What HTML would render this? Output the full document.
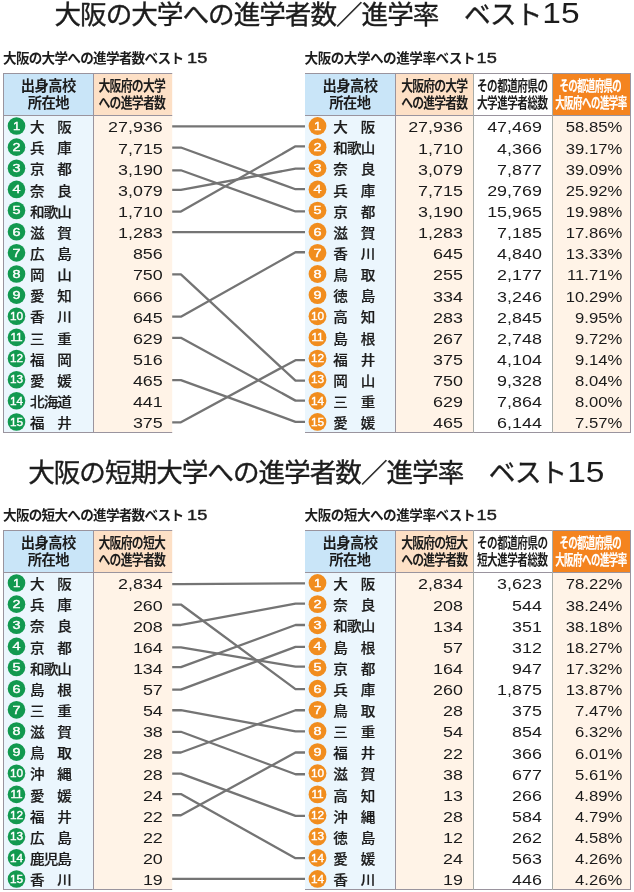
<!DOCTYPE html>
<html lang="ja"><head><meta charset="utf-8"><title>大阪の大学への進学者数／進学率 ベスト15</title>
<style>
html,body{margin:0;padding:0;background:#fff;}
body{width:634px;height:892px;overflow:hidden;font-family:"Liberation Sans","Noto Sans CJK JP",sans-serif;}
svg{display:block;will-change:transform;}
svg text{font-family:"Liberation Sans","Noto Sans CJK JP",sans-serif;}
</style></head><body>
<svg width="634" height="892" viewBox="0 0 634 892">
<text x="54.5" y="23.61" font-size="26.6" letter-spacing="-1" fill="#1c1c1c" stroke="#1c1c1c" stroke-width="0.37" xml:space="preserve">大阪の大学への進学者数／進学率　ベスト</text>
<text transform="translate(579.55 23.1) scale(1.15 1)" font-size="29.1" text-anchor="end" fill="#1c1c1c">15</text>
<text x="3.05" y="62.97" font-size="13.6" font-weight="bold" fill="#1c1c1c" textLength="181" lengthAdjust="spacing">大阪の大学への進学者数ベスト</text>
<text transform="translate(207.7 62.8) scale(1.19 1)" font-size="15.3" text-anchor="end" fill="#1c1c1c" letter-spacing="0.2" stroke="#1c1c1c" stroke-width="0.4">15</text>
<text x="304.54" y="62.97" font-size="13.6" font-weight="bold" fill="#1c1c1c" textLength="171" lengthAdjust="spacing">大阪の大学への進学率ベスト</text>
<text transform="translate(497.2 62.8) scale(1.19 1)" font-size="15.3" text-anchor="end" fill="#1c1c1c" letter-spacing="0.2" stroke="#1c1c1c" stroke-width="0.4">15</text>
<rect x="3" y="73" width="90.5" height="43" fill="#c9e5f8"/>
<rect x="3" y="116" width="90.5" height="317" fill="#ebf6fd"/>
<rect x="93.5" y="73" width="78.7" height="43" fill="#fde0c6"/>
<rect x="93.5" y="116" width="78.7" height="317" fill="#fff3e7"/>
<line x1="3" y1="73.5" x2="172.2" y2="73.5" stroke="#9a949e" stroke-width="1"/>
<line x1="3" y1="115.5" x2="172.2" y2="115.5" stroke="#9a949e" stroke-width="1"/>
<line x1="3" y1="432.5" x2="172.2" y2="432.5" stroke="#9a949e" stroke-width="1"/>
<line x1="3.5" y1="73" x2="3.5" y2="433" stroke="#9a949e" stroke-width="1"/>
<line x1="93.5" y1="73" x2="93.5" y2="433" stroke="#9a949e" stroke-width="1"/>
<text x="20.83" y="90.98" font-size="14.3" font-weight="bold" letter-spacing="-0.55" fill="#1c1c1c">出身高校</text>
<text x="27.7" y="107.98" font-size="14.3" font-weight="bold" letter-spacing="-0.55" fill="#1c1c1c">所在地</text>
<text transform="translate(98.39 90.98) scale(0.83 1)" font-size="14.3" font-weight="bold" letter-spacing="-0.87" fill="#1c1c1c">大阪府の大学</text>
<text transform="translate(98.39 107.98) scale(0.83 1)" font-size="14.3" font-weight="bold" letter-spacing="-0.87" fill="#1c1c1c">への進学者数</text>
<circle cx="16.5" cy="126" r="8.8" fill="#12994f"/>
<text transform="translate(16.5 129.8) scale(1.1 1)" font-size="11.8" text-anchor="middle" fill="#fff" stroke="#fff" stroke-width="0.4">1</text>
<text transform="translate(29.95 132.19) scale(1.094 1)" font-size="13.34" font-weight="500" letter-spacing="-0.82" fill="#1c1c1c" stroke="#1c1c1c" stroke-width="0.2" xml:space="preserve">大　阪</text>
<text transform="translate(162.8 132.45) scale(1.28 1)" font-size="14" text-anchor="end" fill="#1a1a1a">27,936</text>
<circle cx="16.5" cy="147.14" r="8.8" fill="#12994f"/>
<text transform="translate(16.5 150.94) scale(1.22 1)" font-size="11.8" text-anchor="middle" fill="#fff" stroke="#fff" stroke-width="0.4">2</text>
<text transform="translate(29.95 153.33) scale(1.094 1)" font-size="13.34" font-weight="500" letter-spacing="-0.82" fill="#1c1c1c" stroke="#1c1c1c" stroke-width="0.2" xml:space="preserve">兵　庫</text>
<text transform="translate(162.8 153.59) scale(1.28 1)" font-size="14" text-anchor="end" fill="#1a1a1a">7,715</text>
<circle cx="16.5" cy="168.28" r="8.8" fill="#12994f"/>
<text transform="translate(16.5 172.08) scale(1.22 1)" font-size="11.8" text-anchor="middle" fill="#fff" stroke="#fff" stroke-width="0.4">3</text>
<text transform="translate(29.95 174.47) scale(1.094 1)" font-size="13.34" font-weight="500" letter-spacing="-0.82" fill="#1c1c1c" stroke="#1c1c1c" stroke-width="0.2" xml:space="preserve">京　都</text>
<text transform="translate(162.8 174.73) scale(1.28 1)" font-size="14" text-anchor="end" fill="#1a1a1a">3,190</text>
<circle cx="16.5" cy="189.42" r="8.8" fill="#12994f"/>
<text transform="translate(16.5 193.22) scale(1.22 1)" font-size="11.8" text-anchor="middle" fill="#fff" stroke="#fff" stroke-width="0.4">4</text>
<text transform="translate(29.95 195.61) scale(1.094 1)" font-size="13.34" font-weight="500" letter-spacing="-0.82" fill="#1c1c1c" stroke="#1c1c1c" stroke-width="0.2" xml:space="preserve">奈　良</text>
<text transform="translate(162.8 195.87) scale(1.28 1)" font-size="14" text-anchor="end" fill="#1a1a1a">3,079</text>
<circle cx="16.5" cy="210.56" r="8.8" fill="#12994f"/>
<text transform="translate(16.5 214.36) scale(1.22 1)" font-size="11.8" text-anchor="middle" fill="#fff" stroke="#fff" stroke-width="0.4">5</text>
<text transform="translate(29.95 216.75) scale(1.094 1)" font-size="13.34" font-weight="500" letter-spacing="-0.82" fill="#1c1c1c" stroke="#1c1c1c" stroke-width="0.2">和歌山</text>
<text transform="translate(162.8 217.01) scale(1.28 1)" font-size="14" text-anchor="end" fill="#1a1a1a">1,710</text>
<circle cx="16.5" cy="231.7" r="8.8" fill="#12994f"/>
<text transform="translate(16.5 235.5) scale(1.22 1)" font-size="11.8" text-anchor="middle" fill="#fff" stroke="#fff" stroke-width="0.4">6</text>
<text transform="translate(29.95 237.89) scale(1.094 1)" font-size="13.34" font-weight="500" letter-spacing="-0.82" fill="#1c1c1c" stroke="#1c1c1c" stroke-width="0.2" xml:space="preserve">滋　賀</text>
<text transform="translate(162.8 238.15) scale(1.28 1)" font-size="14" text-anchor="end" fill="#1a1a1a">1,283</text>
<circle cx="16.5" cy="252.84" r="8.8" fill="#12994f"/>
<text transform="translate(16.5 256.64) scale(1.22 1)" font-size="11.8" text-anchor="middle" fill="#fff" stroke="#fff" stroke-width="0.4">7</text>
<text transform="translate(29.95 259.03) scale(1.094 1)" font-size="13.34" font-weight="500" letter-spacing="-0.82" fill="#1c1c1c" stroke="#1c1c1c" stroke-width="0.2" xml:space="preserve">広　島</text>
<text transform="translate(162.8 259.29) scale(1.28 1)" font-size="14" text-anchor="end" fill="#1a1a1a">856</text>
<circle cx="16.5" cy="273.98" r="8.8" fill="#12994f"/>
<text transform="translate(16.5 277.78) scale(1.22 1)" font-size="11.8" text-anchor="middle" fill="#fff" stroke="#fff" stroke-width="0.4">8</text>
<text transform="translate(29.95 280.17) scale(1.094 1)" font-size="13.34" font-weight="500" letter-spacing="-0.82" fill="#1c1c1c" stroke="#1c1c1c" stroke-width="0.2" xml:space="preserve">岡　山</text>
<text transform="translate(162.8 280.43) scale(1.28 1)" font-size="14" text-anchor="end" fill="#1a1a1a">750</text>
<circle cx="16.5" cy="295.12" r="8.8" fill="#12994f"/>
<text transform="translate(16.5 298.92) scale(1.22 1)" font-size="11.8" text-anchor="middle" fill="#fff" stroke="#fff" stroke-width="0.4">9</text>
<text transform="translate(29.95 301.31) scale(1.094 1)" font-size="13.34" font-weight="500" letter-spacing="-0.82" fill="#1c1c1c" stroke="#1c1c1c" stroke-width="0.2" xml:space="preserve">愛　知</text>
<text transform="translate(162.8 301.57) scale(1.28 1)" font-size="14" text-anchor="end" fill="#1a1a1a">666</text>
<circle cx="16.5" cy="316.26" r="8.8" fill="#12994f"/>
<text x="16.5" y="320.06" font-size="11.8" text-anchor="middle" fill="#fff" stroke="#fff" stroke-width="0.4">10</text>
<text transform="translate(29.95 322.45) scale(1.094 1)" font-size="13.34" font-weight="500" letter-spacing="-0.82" fill="#1c1c1c" stroke="#1c1c1c" stroke-width="0.2" xml:space="preserve">香　川</text>
<text transform="translate(162.8 322.71) scale(1.28 1)" font-size="14" text-anchor="end" fill="#1a1a1a">645</text>
<circle cx="16.5" cy="337.4" r="8.8" fill="#12994f"/>
<text x="16.5" y="341.2" font-size="11.8" text-anchor="middle" fill="#fff" stroke="#fff" stroke-width="0.4">11</text>
<text transform="translate(29.95 343.59) scale(1.094 1)" font-size="13.34" font-weight="500" letter-spacing="-0.82" fill="#1c1c1c" stroke="#1c1c1c" stroke-width="0.2" xml:space="preserve">三　重</text>
<text transform="translate(162.8 343.85) scale(1.28 1)" font-size="14" text-anchor="end" fill="#1a1a1a">629</text>
<circle cx="16.5" cy="358.54" r="8.8" fill="#12994f"/>
<text x="16.5" y="362.34" font-size="11.8" text-anchor="middle" fill="#fff" stroke="#fff" stroke-width="0.4">12</text>
<text transform="translate(29.95 364.73) scale(1.094 1)" font-size="13.34" font-weight="500" letter-spacing="-0.82" fill="#1c1c1c" stroke="#1c1c1c" stroke-width="0.2" xml:space="preserve">福　岡</text>
<text transform="translate(162.8 364.99) scale(1.28 1)" font-size="14" text-anchor="end" fill="#1a1a1a">516</text>
<circle cx="16.5" cy="379.68" r="8.8" fill="#12994f"/>
<text x="16.5" y="383.48" font-size="11.8" text-anchor="middle" fill="#fff" stroke="#fff" stroke-width="0.4">13</text>
<text transform="translate(29.95 385.87) scale(1.094 1)" font-size="13.34" font-weight="500" letter-spacing="-0.82" fill="#1c1c1c" stroke="#1c1c1c" stroke-width="0.2" xml:space="preserve">愛　媛</text>
<text transform="translate(162.8 386.13) scale(1.28 1)" font-size="14" text-anchor="end" fill="#1a1a1a">465</text>
<circle cx="16.5" cy="400.82" r="8.8" fill="#12994f"/>
<text x="16.5" y="404.62" font-size="11.8" text-anchor="middle" fill="#fff" stroke="#fff" stroke-width="0.4">14</text>
<text transform="translate(29.95 407.01) scale(1.094 1)" font-size="13.34" font-weight="500" letter-spacing="-0.82" fill="#1c1c1c" stroke="#1c1c1c" stroke-width="0.2">北海道</text>
<text transform="translate(162.8 407.27) scale(1.28 1)" font-size="14" text-anchor="end" fill="#1a1a1a">441</text>
<circle cx="16.5" cy="421.96" r="8.8" fill="#12994f"/>
<text x="16.5" y="425.76" font-size="11.8" text-anchor="middle" fill="#fff" stroke="#fff" stroke-width="0.4">15</text>
<text transform="translate(29.95 428.15) scale(1.094 1)" font-size="13.34" font-weight="500" letter-spacing="-0.82" fill="#1c1c1c" stroke="#1c1c1c" stroke-width="0.2" xml:space="preserve">福　井</text>
<text transform="translate(162.8 428.41) scale(1.28 1)" font-size="14" text-anchor="end" fill="#1a1a1a">375</text>
<rect x="305" y="73" width="90.5" height="43" fill="#c9e5f8"/>
<rect x="305" y="116" width="90.5" height="317" fill="#ebf6fd"/>
<rect x="395.5" y="73" width="78" height="43" fill="#fde0c6"/>
<rect x="395.5" y="116" width="78" height="317" fill="#fff3e7"/>
<rect x="552.5" y="73" width="78" height="43" fill="#f4841f"/>
<rect x="552.5" y="116" width="78" height="317" fill="#fff3e7"/>
<line x1="305" y1="73.5" x2="631" y2="73.5" stroke="#9a949e" stroke-width="1"/>
<line x1="305" y1="115.5" x2="631" y2="115.5" stroke="#9a949e" stroke-width="1"/>
<line x1="305" y1="432.5" x2="631" y2="432.5" stroke="#9a949e" stroke-width="1"/>
<line x1="395.5" y1="73" x2="395.5" y2="433" stroke="#9a949e" stroke-width="1"/>
<line x1="473.5" y1="73" x2="473.5" y2="433" stroke="#a8aca8" stroke-width="1"/>
<line x1="552.5" y1="73" x2="552.5" y2="433" stroke="#a8aca8" stroke-width="1"/>
<line x1="630.5" y1="73" x2="630.5" y2="433" stroke="#9a949e" stroke-width="1"/>
<text x="322.43" y="90.98" font-size="14.3" font-weight="bold" letter-spacing="-0.55" fill="#1c1c1c">出身高校</text>
<text x="329.3" y="107.98" font-size="14.3" font-weight="bold" letter-spacing="-0.55" fill="#1c1c1c">所在地</text>
<text transform="translate(401.37 90.98) scale(0.83 1)" font-size="14.3" font-weight="bold" letter-spacing="-1.05" fill="#1c1c1c">大阪府の大学</text>
<text transform="translate(401.37 107.98) scale(0.83 1)" font-size="14.3" font-weight="bold" letter-spacing="-1.05" fill="#1c1c1c">への進学者数</text>
<text transform="translate(477.01 90.98) scale(0.74 1)" font-size="14.3" font-weight="bold" letter-spacing="-0.65" fill="#1c1c1c">その都道府県の</text>
<text transform="translate(477.01 107.98) scale(0.74 1)" font-size="14.3" font-weight="bold" letter-spacing="-0.65" fill="#1c1c1c">大学進学者総数</text>
<text transform="translate(559.48 90.98) scale(0.66 1)" font-size="14.3" font-weight="bold" letter-spacing="-0.97" fill="#fff" stroke="#fff" stroke-width="0.15">その都道府県の</text>
<text transform="translate(555.16 107.98) scale(0.66 1)" font-size="14.3" font-weight="bold" letter-spacing="-0.74" fill="#fff" stroke="#fff" stroke-width="0.15">大阪府への進学率</text>
<circle cx="317.5" cy="126" r="8.9" fill="#f18d1e"/>
<text transform="translate(317.5 129.8) scale(1.1 1)" font-size="11.8" text-anchor="middle" fill="#fff" stroke="#fff" stroke-width="0.4">1</text>
<text transform="translate(333.35 132.19) scale(1.094 1)" font-size="13.34" font-weight="500" letter-spacing="-0.82" fill="#1c1c1c" stroke="#1c1c1c" stroke-width="0.2" xml:space="preserve">大　阪</text>
<text transform="translate(462.9 132.45) scale(1.28 1)" font-size="14" text-anchor="end" fill="#1a1a1a">27,936</text>
<text transform="translate(541.9 132.45) scale(1.28 1)" font-size="14" text-anchor="end" fill="#1a1a1a">47,469</text>
<text transform="translate(622.3 132.45) scale(1.19 1)" font-size="14" text-anchor="end" fill="#1a1a1a">58.85%</text>
<circle cx="317.5" cy="147.14" r="8.9" fill="#f18d1e"/>
<text transform="translate(317.5 150.94) scale(1.22 1)" font-size="11.8" text-anchor="middle" fill="#fff" stroke="#fff" stroke-width="0.4">2</text>
<text transform="translate(333.35 153.33) scale(1.094 1)" font-size="13.34" font-weight="500" letter-spacing="-0.82" fill="#1c1c1c" stroke="#1c1c1c" stroke-width="0.2">和歌山</text>
<text transform="translate(462.9 153.59) scale(1.28 1)" font-size="14" text-anchor="end" fill="#1a1a1a">1,710</text>
<text transform="translate(541.9 153.59) scale(1.28 1)" font-size="14" text-anchor="end" fill="#1a1a1a">4,366</text>
<text transform="translate(622.3 153.59) scale(1.19 1)" font-size="14" text-anchor="end" fill="#1a1a1a">39.17%</text>
<circle cx="317.5" cy="168.28" r="8.9" fill="#f18d1e"/>
<text transform="translate(317.5 172.08) scale(1.22 1)" font-size="11.8" text-anchor="middle" fill="#fff" stroke="#fff" stroke-width="0.4">3</text>
<text transform="translate(333.35 174.47) scale(1.094 1)" font-size="13.34" font-weight="500" letter-spacing="-0.82" fill="#1c1c1c" stroke="#1c1c1c" stroke-width="0.2" xml:space="preserve">奈　良</text>
<text transform="translate(462.9 174.73) scale(1.28 1)" font-size="14" text-anchor="end" fill="#1a1a1a">3,079</text>
<text transform="translate(541.9 174.73) scale(1.28 1)" font-size="14" text-anchor="end" fill="#1a1a1a">7,877</text>
<text transform="translate(622.3 174.73) scale(1.19 1)" font-size="14" text-anchor="end" fill="#1a1a1a">39.09%</text>
<circle cx="317.5" cy="189.42" r="8.9" fill="#f18d1e"/>
<text transform="translate(317.5 193.22) scale(1.22 1)" font-size="11.8" text-anchor="middle" fill="#fff" stroke="#fff" stroke-width="0.4">4</text>
<text transform="translate(333.35 195.61) scale(1.094 1)" font-size="13.34" font-weight="500" letter-spacing="-0.82" fill="#1c1c1c" stroke="#1c1c1c" stroke-width="0.2" xml:space="preserve">兵　庫</text>
<text transform="translate(462.9 195.87) scale(1.28 1)" font-size="14" text-anchor="end" fill="#1a1a1a">7,715</text>
<text transform="translate(541.9 195.87) scale(1.28 1)" font-size="14" text-anchor="end" fill="#1a1a1a">29,769</text>
<text transform="translate(622.3 195.87) scale(1.19 1)" font-size="14" text-anchor="end" fill="#1a1a1a">25.92%</text>
<circle cx="317.5" cy="210.56" r="8.9" fill="#f18d1e"/>
<text transform="translate(317.5 214.36) scale(1.22 1)" font-size="11.8" text-anchor="middle" fill="#fff" stroke="#fff" stroke-width="0.4">5</text>
<text transform="translate(333.35 216.75) scale(1.094 1)" font-size="13.34" font-weight="500" letter-spacing="-0.82" fill="#1c1c1c" stroke="#1c1c1c" stroke-width="0.2" xml:space="preserve">京　都</text>
<text transform="translate(462.9 217.01) scale(1.28 1)" font-size="14" text-anchor="end" fill="#1a1a1a">3,190</text>
<text transform="translate(541.9 217.01) scale(1.28 1)" font-size="14" text-anchor="end" fill="#1a1a1a">15,965</text>
<text transform="translate(622.3 217.01) scale(1.19 1)" font-size="14" text-anchor="end" fill="#1a1a1a">19.98%</text>
<circle cx="317.5" cy="231.7" r="8.9" fill="#f18d1e"/>
<text transform="translate(317.5 235.5) scale(1.22 1)" font-size="11.8" text-anchor="middle" fill="#fff" stroke="#fff" stroke-width="0.4">6</text>
<text transform="translate(333.35 237.89) scale(1.094 1)" font-size="13.34" font-weight="500" letter-spacing="-0.82" fill="#1c1c1c" stroke="#1c1c1c" stroke-width="0.2" xml:space="preserve">滋　賀</text>
<text transform="translate(462.9 238.15) scale(1.28 1)" font-size="14" text-anchor="end" fill="#1a1a1a">1,283</text>
<text transform="translate(541.9 238.15) scale(1.28 1)" font-size="14" text-anchor="end" fill="#1a1a1a">7,185</text>
<text transform="translate(622.3 238.15) scale(1.19 1)" font-size="14" text-anchor="end" fill="#1a1a1a">17.86%</text>
<circle cx="317.5" cy="252.84" r="8.9" fill="#f18d1e"/>
<text transform="translate(317.5 256.64) scale(1.22 1)" font-size="11.8" text-anchor="middle" fill="#fff" stroke="#fff" stroke-width="0.4">7</text>
<text transform="translate(333.35 259.03) scale(1.094 1)" font-size="13.34" font-weight="500" letter-spacing="-0.82" fill="#1c1c1c" stroke="#1c1c1c" stroke-width="0.2" xml:space="preserve">香　川</text>
<text transform="translate(462.9 259.29) scale(1.28 1)" font-size="14" text-anchor="end" fill="#1a1a1a">645</text>
<text transform="translate(541.9 259.29) scale(1.28 1)" font-size="14" text-anchor="end" fill="#1a1a1a">4,840</text>
<text transform="translate(622.3 259.29) scale(1.19 1)" font-size="14" text-anchor="end" fill="#1a1a1a">13.33%</text>
<circle cx="317.5" cy="273.98" r="8.9" fill="#f18d1e"/>
<text transform="translate(317.5 277.78) scale(1.22 1)" font-size="11.8" text-anchor="middle" fill="#fff" stroke="#fff" stroke-width="0.4">8</text>
<text transform="translate(333.35 280.17) scale(1.094 1)" font-size="13.34" font-weight="500" letter-spacing="-0.82" fill="#1c1c1c" stroke="#1c1c1c" stroke-width="0.2" xml:space="preserve">鳥　取</text>
<text transform="translate(462.9 280.43) scale(1.28 1)" font-size="14" text-anchor="end" fill="#1a1a1a">255</text>
<text transform="translate(541.9 280.43) scale(1.28 1)" font-size="14" text-anchor="end" fill="#1a1a1a">2,177</text>
<text transform="translate(622.3 280.43) scale(1.19 1)" font-size="14" text-anchor="end" fill="#1a1a1a">11.71%</text>
<circle cx="317.5" cy="295.12" r="8.9" fill="#f18d1e"/>
<text transform="translate(317.5 298.92) scale(1.22 1)" font-size="11.8" text-anchor="middle" fill="#fff" stroke="#fff" stroke-width="0.4">9</text>
<text transform="translate(333.35 301.31) scale(1.094 1)" font-size="13.34" font-weight="500" letter-spacing="-0.82" fill="#1c1c1c" stroke="#1c1c1c" stroke-width="0.2" xml:space="preserve">徳　島</text>
<text transform="translate(462.9 301.57) scale(1.28 1)" font-size="14" text-anchor="end" fill="#1a1a1a">334</text>
<text transform="translate(541.9 301.57) scale(1.28 1)" font-size="14" text-anchor="end" fill="#1a1a1a">3,246</text>
<text transform="translate(622.3 301.57) scale(1.19 1)" font-size="14" text-anchor="end" fill="#1a1a1a">10.29%</text>
<circle cx="317.5" cy="316.26" r="8.9" fill="#f18d1e"/>
<text x="317.5" y="320.06" font-size="11.8" text-anchor="middle" fill="#fff" stroke="#fff" stroke-width="0.4">10</text>
<text transform="translate(333.35 322.45) scale(1.094 1)" font-size="13.34" font-weight="500" letter-spacing="-0.82" fill="#1c1c1c" stroke="#1c1c1c" stroke-width="0.2" xml:space="preserve">高　知</text>
<text transform="translate(462.9 322.71) scale(1.28 1)" font-size="14" text-anchor="end" fill="#1a1a1a">283</text>
<text transform="translate(541.9 322.71) scale(1.28 1)" font-size="14" text-anchor="end" fill="#1a1a1a">2,845</text>
<text transform="translate(622.3 322.71) scale(1.19 1)" font-size="14" text-anchor="end" fill="#1a1a1a">9.95%</text>
<circle cx="317.5" cy="337.4" r="8.9" fill="#f18d1e"/>
<text x="317.5" y="341.2" font-size="11.8" text-anchor="middle" fill="#fff" stroke="#fff" stroke-width="0.4">11</text>
<text transform="translate(333.35 343.59) scale(1.094 1)" font-size="13.34" font-weight="500" letter-spacing="-0.82" fill="#1c1c1c" stroke="#1c1c1c" stroke-width="0.2" xml:space="preserve">島　根</text>
<text transform="translate(462.9 343.85) scale(1.28 1)" font-size="14" text-anchor="end" fill="#1a1a1a">267</text>
<text transform="translate(541.9 343.85) scale(1.28 1)" font-size="14" text-anchor="end" fill="#1a1a1a">2,748</text>
<text transform="translate(622.3 343.85) scale(1.19 1)" font-size="14" text-anchor="end" fill="#1a1a1a">9.72%</text>
<circle cx="317.5" cy="358.54" r="8.9" fill="#f18d1e"/>
<text x="317.5" y="362.34" font-size="11.8" text-anchor="middle" fill="#fff" stroke="#fff" stroke-width="0.4">12</text>
<text transform="translate(333.35 364.73) scale(1.094 1)" font-size="13.34" font-weight="500" letter-spacing="-0.82" fill="#1c1c1c" stroke="#1c1c1c" stroke-width="0.2" xml:space="preserve">福　井</text>
<text transform="translate(462.9 364.99) scale(1.28 1)" font-size="14" text-anchor="end" fill="#1a1a1a">375</text>
<text transform="translate(541.9 364.99) scale(1.28 1)" font-size="14" text-anchor="end" fill="#1a1a1a">4,104</text>
<text transform="translate(622.3 364.99) scale(1.19 1)" font-size="14" text-anchor="end" fill="#1a1a1a">9.14%</text>
<circle cx="317.5" cy="379.68" r="8.9" fill="#f18d1e"/>
<text x="317.5" y="383.48" font-size="11.8" text-anchor="middle" fill="#fff" stroke="#fff" stroke-width="0.4">13</text>
<text transform="translate(333.35 385.87) scale(1.094 1)" font-size="13.34" font-weight="500" letter-spacing="-0.82" fill="#1c1c1c" stroke="#1c1c1c" stroke-width="0.2" xml:space="preserve">岡　山</text>
<text transform="translate(462.9 386.13) scale(1.28 1)" font-size="14" text-anchor="end" fill="#1a1a1a">750</text>
<text transform="translate(541.9 386.13) scale(1.28 1)" font-size="14" text-anchor="end" fill="#1a1a1a">9,328</text>
<text transform="translate(622.3 386.13) scale(1.19 1)" font-size="14" text-anchor="end" fill="#1a1a1a">8.04%</text>
<circle cx="317.5" cy="400.82" r="8.9" fill="#f18d1e"/>
<text x="317.5" y="404.62" font-size="11.8" text-anchor="middle" fill="#fff" stroke="#fff" stroke-width="0.4">14</text>
<text transform="translate(333.35 407.01) scale(1.094 1)" font-size="13.34" font-weight="500" letter-spacing="-0.82" fill="#1c1c1c" stroke="#1c1c1c" stroke-width="0.2" xml:space="preserve">三　重</text>
<text transform="translate(462.9 407.27) scale(1.28 1)" font-size="14" text-anchor="end" fill="#1a1a1a">629</text>
<text transform="translate(541.9 407.27) scale(1.28 1)" font-size="14" text-anchor="end" fill="#1a1a1a">7,864</text>
<text transform="translate(622.3 407.27) scale(1.19 1)" font-size="14" text-anchor="end" fill="#1a1a1a">8.00%</text>
<circle cx="317.5" cy="421.96" r="8.9" fill="#f18d1e"/>
<text x="317.5" y="425.76" font-size="11.8" text-anchor="middle" fill="#fff" stroke="#fff" stroke-width="0.4">15</text>
<text transform="translate(333.35 428.15) scale(1.094 1)" font-size="13.34" font-weight="500" letter-spacing="-0.82" fill="#1c1c1c" stroke="#1c1c1c" stroke-width="0.2" xml:space="preserve">愛　媛</text>
<text transform="translate(462.9 428.41) scale(1.28 1)" font-size="14" text-anchor="end" fill="#1a1a1a">465</text>
<text transform="translate(541.9 428.41) scale(1.28 1)" font-size="14" text-anchor="end" fill="#1a1a1a">6,144</text>
<text transform="translate(622.3 428.41) scale(1.19 1)" font-size="14" text-anchor="end" fill="#1a1a1a">7.57%</text>
<polyline points="172.2,126.4 180.9,126.4 295.5,126.4 305,126.4" fill="none" stroke="#747474" stroke-width="2.3" stroke-linejoin="round"/>
<polyline points="172.2,147.54 180.9,147.54 295.5,189.22 305,189.22" fill="none" stroke="#747474" stroke-width="2.3" stroke-linejoin="round"/>
<polyline points="172.2,170.28 180.9,170.28 295.5,211.46 305,211.46" fill="none" stroke="#747474" stroke-width="2.3" stroke-linejoin="round"/>
<polyline points="172.2,189.82 180.9,189.82 295.5,168.68 305,168.68" fill="none" stroke="#747474" stroke-width="2.3" stroke-linejoin="round"/>
<polyline points="172.2,211.56 180.9,211.56 295.5,146.34 305,146.34" fill="none" stroke="#747474" stroke-width="2.3" stroke-linejoin="round"/>
<polyline points="172.2,232.1 180.9,232.1 295.5,232.1 305,232.1" fill="none" stroke="#747474" stroke-width="2.3" stroke-linejoin="round"/>
<polyline points="172.2,274.38 180.9,274.38 295.5,380.68 305,380.68" fill="none" stroke="#747474" stroke-width="2.3" stroke-linejoin="round"/>
<polyline points="172.2,316.66 180.9,316.66 295.5,252.24 305,252.24" fill="none" stroke="#747474" stroke-width="2.3" stroke-linejoin="round"/>
<polyline points="172.2,337.8 180.9,337.8 295.5,400.62 305,400.62" fill="none" stroke="#747474" stroke-width="2.3" stroke-linejoin="round"/>
<polyline points="172.2,380.08 180.9,380.08 295.5,421.86 305,421.86" fill="none" stroke="#747474" stroke-width="2.3" stroke-linejoin="round"/>
<polyline points="172.2,422.36 180.9,422.36 295.5,360.14 305,360.14" fill="none" stroke="#747474" stroke-width="2.3" stroke-linejoin="round"/>
<text x="28.2" y="482.41" font-size="26.6" letter-spacing="-1" fill="#1c1c1c" stroke="#1c1c1c" stroke-width="0.37" xml:space="preserve">大阪の短期大学への進学者数／進学率　ベスト</text>
<text transform="translate(604.45 481.9) scale(1.15 1)" font-size="29.1" text-anchor="end" fill="#1c1c1c">15</text>
<text x="3.05" y="519.97" font-size="13.6" font-weight="bold" fill="#1c1c1c" textLength="181" lengthAdjust="spacing">大阪の短大への進学者数ベスト</text>
<text transform="translate(207.7 519.8) scale(1.19 1)" font-size="15.3" text-anchor="end" fill="#1c1c1c" letter-spacing="0.2" stroke="#1c1c1c" stroke-width="0.4">15</text>
<text x="304.54" y="519.97" font-size="13.6" font-weight="bold" fill="#1c1c1c" textLength="171" lengthAdjust="spacing">大阪の短大への進学率ベスト</text>
<text transform="translate(497.2 519.8) scale(1.19 1)" font-size="15.3" text-anchor="end" fill="#1c1c1c" letter-spacing="0.2" stroke="#1c1c1c" stroke-width="0.4">15</text>
<rect x="3" y="530" width="90.5" height="43" fill="#c9e5f8"/>
<rect x="3" y="573" width="90.5" height="317" fill="#ebf6fd"/>
<rect x="93.5" y="530" width="78.7" height="43" fill="#fde0c6"/>
<rect x="93.5" y="573" width="78.7" height="317" fill="#fff3e7"/>
<line x1="3" y1="530.5" x2="172.2" y2="530.5" stroke="#9a949e" stroke-width="1"/>
<line x1="3" y1="572.5" x2="172.2" y2="572.5" stroke="#9a949e" stroke-width="1"/>
<line x1="3" y1="889.5" x2="172.2" y2="889.5" stroke="#9a949e" stroke-width="1"/>
<line x1="3.5" y1="530" x2="3.5" y2="890" stroke="#9a949e" stroke-width="1"/>
<line x1="93.5" y1="530" x2="93.5" y2="890" stroke="#9a949e" stroke-width="1"/>
<text x="20.83" y="547.98" font-size="14.3" font-weight="bold" letter-spacing="-0.55" fill="#1c1c1c">出身高校</text>
<text x="27.7" y="564.98" font-size="14.3" font-weight="bold" letter-spacing="-0.55" fill="#1c1c1c">所在地</text>
<text transform="translate(98.39 547.98) scale(0.83 1)" font-size="14.3" font-weight="bold" letter-spacing="-0.87" fill="#1c1c1c">大阪府の短大</text>
<text transform="translate(98.39 564.98) scale(0.83 1)" font-size="14.3" font-weight="bold" letter-spacing="-0.87" fill="#1c1c1c">への進学者数</text>
<circle cx="16.5" cy="583" r="8.8" fill="#12994f"/>
<text transform="translate(16.5 586.8) scale(1.1 1)" font-size="11.8" text-anchor="middle" fill="#fff" stroke="#fff" stroke-width="0.4">1</text>
<text transform="translate(29.95 589.19) scale(1.094 1)" font-size="13.34" font-weight="500" letter-spacing="-0.82" fill="#1c1c1c" stroke="#1c1c1c" stroke-width="0.2" xml:space="preserve">大　阪</text>
<text transform="translate(162.8 589.45) scale(1.28 1)" font-size="14" text-anchor="end" fill="#1a1a1a">2,834</text>
<circle cx="16.5" cy="604.14" r="8.8" fill="#12994f"/>
<text transform="translate(16.5 607.94) scale(1.22 1)" font-size="11.8" text-anchor="middle" fill="#fff" stroke="#fff" stroke-width="0.4">2</text>
<text transform="translate(29.95 610.33) scale(1.094 1)" font-size="13.34" font-weight="500" letter-spacing="-0.82" fill="#1c1c1c" stroke="#1c1c1c" stroke-width="0.2" xml:space="preserve">兵　庫</text>
<text transform="translate(162.8 610.59) scale(1.28 1)" font-size="14" text-anchor="end" fill="#1a1a1a">260</text>
<circle cx="16.5" cy="625.28" r="8.8" fill="#12994f"/>
<text transform="translate(16.5 629.08) scale(1.22 1)" font-size="11.8" text-anchor="middle" fill="#fff" stroke="#fff" stroke-width="0.4">3</text>
<text transform="translate(29.95 631.47) scale(1.094 1)" font-size="13.34" font-weight="500" letter-spacing="-0.82" fill="#1c1c1c" stroke="#1c1c1c" stroke-width="0.2" xml:space="preserve">奈　良</text>
<text transform="translate(162.8 631.73) scale(1.28 1)" font-size="14" text-anchor="end" fill="#1a1a1a">208</text>
<circle cx="16.5" cy="646.42" r="8.8" fill="#12994f"/>
<text transform="translate(16.5 650.22) scale(1.22 1)" font-size="11.8" text-anchor="middle" fill="#fff" stroke="#fff" stroke-width="0.4">4</text>
<text transform="translate(29.95 652.61) scale(1.094 1)" font-size="13.34" font-weight="500" letter-spacing="-0.82" fill="#1c1c1c" stroke="#1c1c1c" stroke-width="0.2" xml:space="preserve">京　都</text>
<text transform="translate(162.8 652.87) scale(1.28 1)" font-size="14" text-anchor="end" fill="#1a1a1a">164</text>
<circle cx="16.5" cy="667.56" r="8.8" fill="#12994f"/>
<text transform="translate(16.5 671.36) scale(1.22 1)" font-size="11.8" text-anchor="middle" fill="#fff" stroke="#fff" stroke-width="0.4">5</text>
<text transform="translate(29.95 673.75) scale(1.094 1)" font-size="13.34" font-weight="500" letter-spacing="-0.82" fill="#1c1c1c" stroke="#1c1c1c" stroke-width="0.2">和歌山</text>
<text transform="translate(162.8 674.01) scale(1.28 1)" font-size="14" text-anchor="end" fill="#1a1a1a">134</text>
<circle cx="16.5" cy="688.7" r="8.8" fill="#12994f"/>
<text transform="translate(16.5 692.5) scale(1.22 1)" font-size="11.8" text-anchor="middle" fill="#fff" stroke="#fff" stroke-width="0.4">6</text>
<text transform="translate(29.95 694.89) scale(1.094 1)" font-size="13.34" font-weight="500" letter-spacing="-0.82" fill="#1c1c1c" stroke="#1c1c1c" stroke-width="0.2" xml:space="preserve">島　根</text>
<text transform="translate(162.8 695.15) scale(1.28 1)" font-size="14" text-anchor="end" fill="#1a1a1a">57</text>
<circle cx="16.5" cy="709.84" r="8.8" fill="#12994f"/>
<text transform="translate(16.5 713.64) scale(1.22 1)" font-size="11.8" text-anchor="middle" fill="#fff" stroke="#fff" stroke-width="0.4">7</text>
<text transform="translate(29.95 716.03) scale(1.094 1)" font-size="13.34" font-weight="500" letter-spacing="-0.82" fill="#1c1c1c" stroke="#1c1c1c" stroke-width="0.2" xml:space="preserve">三　重</text>
<text transform="translate(162.8 716.29) scale(1.28 1)" font-size="14" text-anchor="end" fill="#1a1a1a">54</text>
<circle cx="16.5" cy="730.98" r="8.8" fill="#12994f"/>
<text transform="translate(16.5 734.78) scale(1.22 1)" font-size="11.8" text-anchor="middle" fill="#fff" stroke="#fff" stroke-width="0.4">8</text>
<text transform="translate(29.95 737.17) scale(1.094 1)" font-size="13.34" font-weight="500" letter-spacing="-0.82" fill="#1c1c1c" stroke="#1c1c1c" stroke-width="0.2" xml:space="preserve">滋　賀</text>
<text transform="translate(162.8 737.43) scale(1.28 1)" font-size="14" text-anchor="end" fill="#1a1a1a">38</text>
<circle cx="16.5" cy="752.12" r="8.8" fill="#12994f"/>
<text transform="translate(16.5 755.92) scale(1.22 1)" font-size="11.8" text-anchor="middle" fill="#fff" stroke="#fff" stroke-width="0.4">9</text>
<text transform="translate(29.95 758.31) scale(1.094 1)" font-size="13.34" font-weight="500" letter-spacing="-0.82" fill="#1c1c1c" stroke="#1c1c1c" stroke-width="0.2" xml:space="preserve">鳥　取</text>
<text transform="translate(162.8 758.57) scale(1.28 1)" font-size="14" text-anchor="end" fill="#1a1a1a">28</text>
<circle cx="16.5" cy="773.26" r="8.8" fill="#12994f"/>
<text x="16.5" y="777.06" font-size="11.8" text-anchor="middle" fill="#fff" stroke="#fff" stroke-width="0.4">10</text>
<text transform="translate(29.95 779.45) scale(1.094 1)" font-size="13.34" font-weight="500" letter-spacing="-0.82" fill="#1c1c1c" stroke="#1c1c1c" stroke-width="0.2" xml:space="preserve">沖　縄</text>
<text transform="translate(162.8 779.71) scale(1.28 1)" font-size="14" text-anchor="end" fill="#1a1a1a">28</text>
<circle cx="16.5" cy="794.4" r="8.8" fill="#12994f"/>
<text x="16.5" y="798.2" font-size="11.8" text-anchor="middle" fill="#fff" stroke="#fff" stroke-width="0.4">11</text>
<text transform="translate(29.95 800.59) scale(1.094 1)" font-size="13.34" font-weight="500" letter-spacing="-0.82" fill="#1c1c1c" stroke="#1c1c1c" stroke-width="0.2" xml:space="preserve">愛　媛</text>
<text transform="translate(162.8 800.85) scale(1.28 1)" font-size="14" text-anchor="end" fill="#1a1a1a">24</text>
<circle cx="16.5" cy="815.54" r="8.8" fill="#12994f"/>
<text x="16.5" y="819.34" font-size="11.8" text-anchor="middle" fill="#fff" stroke="#fff" stroke-width="0.4">12</text>
<text transform="translate(29.95 821.73) scale(1.094 1)" font-size="13.34" font-weight="500" letter-spacing="-0.82" fill="#1c1c1c" stroke="#1c1c1c" stroke-width="0.2" xml:space="preserve">福　井</text>
<text transform="translate(162.8 821.99) scale(1.28 1)" font-size="14" text-anchor="end" fill="#1a1a1a">22</text>
<circle cx="16.5" cy="836.68" r="8.8" fill="#12994f"/>
<text x="16.5" y="840.48" font-size="11.8" text-anchor="middle" fill="#fff" stroke="#fff" stroke-width="0.4">13</text>
<text transform="translate(29.95 842.87) scale(1.094 1)" font-size="13.34" font-weight="500" letter-spacing="-0.82" fill="#1c1c1c" stroke="#1c1c1c" stroke-width="0.2" xml:space="preserve">広　島</text>
<text transform="translate(162.8 843.13) scale(1.28 1)" font-size="14" text-anchor="end" fill="#1a1a1a">22</text>
<circle cx="16.5" cy="857.82" r="8.8" fill="#12994f"/>
<text x="16.5" y="861.62" font-size="11.8" text-anchor="middle" fill="#fff" stroke="#fff" stroke-width="0.4">14</text>
<text transform="translate(29.95 864.01) scale(1.094 1)" font-size="13.34" font-weight="500" letter-spacing="-0.82" fill="#1c1c1c" stroke="#1c1c1c" stroke-width="0.2">鹿児島</text>
<text transform="translate(162.8 864.27) scale(1.28 1)" font-size="14" text-anchor="end" fill="#1a1a1a">20</text>
<circle cx="16.5" cy="878.96" r="8.8" fill="#12994f"/>
<text x="16.5" y="882.76" font-size="11.8" text-anchor="middle" fill="#fff" stroke="#fff" stroke-width="0.4">15</text>
<text transform="translate(29.95 885.15) scale(1.094 1)" font-size="13.34" font-weight="500" letter-spacing="-0.82" fill="#1c1c1c" stroke="#1c1c1c" stroke-width="0.2" xml:space="preserve">香　川</text>
<text transform="translate(162.8 885.41) scale(1.28 1)" font-size="14" text-anchor="end" fill="#1a1a1a">19</text>
<rect x="305" y="530" width="90.5" height="43" fill="#c9e5f8"/>
<rect x="305" y="573" width="90.5" height="317" fill="#ebf6fd"/>
<rect x="395.5" y="530" width="78" height="43" fill="#fde0c6"/>
<rect x="395.5" y="573" width="78" height="317" fill="#fff3e7"/>
<rect x="552.5" y="530" width="78" height="43" fill="#f4841f"/>
<rect x="552.5" y="573" width="78" height="317" fill="#fff3e7"/>
<line x1="305" y1="530.5" x2="631" y2="530.5" stroke="#9a949e" stroke-width="1"/>
<line x1="305" y1="572.5" x2="631" y2="572.5" stroke="#9a949e" stroke-width="1"/>
<line x1="305" y1="889.5" x2="631" y2="889.5" stroke="#9a949e" stroke-width="1"/>
<line x1="395.5" y1="530" x2="395.5" y2="890" stroke="#9a949e" stroke-width="1"/>
<line x1="473.5" y1="530" x2="473.5" y2="890" stroke="#a8aca8" stroke-width="1"/>
<line x1="552.5" y1="530" x2="552.5" y2="890" stroke="#a8aca8" stroke-width="1"/>
<line x1="630.5" y1="530" x2="630.5" y2="890" stroke="#9a949e" stroke-width="1"/>
<text x="322.43" y="547.98" font-size="14.3" font-weight="bold" letter-spacing="-0.55" fill="#1c1c1c">出身高校</text>
<text x="329.3" y="564.98" font-size="14.3" font-weight="bold" letter-spacing="-0.55" fill="#1c1c1c">所在地</text>
<text transform="translate(401.37 547.98) scale(0.83 1)" font-size="14.3" font-weight="bold" letter-spacing="-1.05" fill="#1c1c1c">大阪府の短大</text>
<text transform="translate(401.37 564.98) scale(0.83 1)" font-size="14.3" font-weight="bold" letter-spacing="-1.05" fill="#1c1c1c">への進学者数</text>
<text transform="translate(477.01 547.98) scale(0.74 1)" font-size="14.3" font-weight="bold" letter-spacing="-0.65" fill="#1c1c1c">その都道府県の</text>
<text transform="translate(477.01 564.98) scale(0.74 1)" font-size="14.3" font-weight="bold" letter-spacing="-0.65" fill="#1c1c1c">短大進学者総数</text>
<text transform="translate(559.48 547.98) scale(0.66 1)" font-size="14.3" font-weight="bold" letter-spacing="-0.97" fill="#fff" stroke="#fff" stroke-width="0.15">その都道府県の</text>
<text transform="translate(555.16 564.98) scale(0.66 1)" font-size="14.3" font-weight="bold" letter-spacing="-0.74" fill="#fff" stroke="#fff" stroke-width="0.15">大阪府への進学率</text>
<circle cx="317.5" cy="583" r="8.9" fill="#f18d1e"/>
<text transform="translate(317.5 586.8) scale(1.1 1)" font-size="11.8" text-anchor="middle" fill="#fff" stroke="#fff" stroke-width="0.4">1</text>
<text transform="translate(333.35 589.19) scale(1.094 1)" font-size="13.34" font-weight="500" letter-spacing="-0.82" fill="#1c1c1c" stroke="#1c1c1c" stroke-width="0.2" xml:space="preserve">大　阪</text>
<text transform="translate(462.9 589.45) scale(1.28 1)" font-size="14" text-anchor="end" fill="#1a1a1a">2,834</text>
<text transform="translate(541.9 589.45) scale(1.28 1)" font-size="14" text-anchor="end" fill="#1a1a1a">3,623</text>
<text transform="translate(622.3 589.45) scale(1.19 1)" font-size="14" text-anchor="end" fill="#1a1a1a">78.22%</text>
<circle cx="317.5" cy="604.14" r="8.9" fill="#f18d1e"/>
<text transform="translate(317.5 607.94) scale(1.22 1)" font-size="11.8" text-anchor="middle" fill="#fff" stroke="#fff" stroke-width="0.4">2</text>
<text transform="translate(333.35 610.33) scale(1.094 1)" font-size="13.34" font-weight="500" letter-spacing="-0.82" fill="#1c1c1c" stroke="#1c1c1c" stroke-width="0.2" xml:space="preserve">奈　良</text>
<text transform="translate(462.9 610.59) scale(1.28 1)" font-size="14" text-anchor="end" fill="#1a1a1a">208</text>
<text transform="translate(541.9 610.59) scale(1.28 1)" font-size="14" text-anchor="end" fill="#1a1a1a">544</text>
<text transform="translate(622.3 610.59) scale(1.19 1)" font-size="14" text-anchor="end" fill="#1a1a1a">38.24%</text>
<circle cx="317.5" cy="625.28" r="8.9" fill="#f18d1e"/>
<text transform="translate(317.5 629.08) scale(1.22 1)" font-size="11.8" text-anchor="middle" fill="#fff" stroke="#fff" stroke-width="0.4">3</text>
<text transform="translate(333.35 631.47) scale(1.094 1)" font-size="13.34" font-weight="500" letter-spacing="-0.82" fill="#1c1c1c" stroke="#1c1c1c" stroke-width="0.2">和歌山</text>
<text transform="translate(462.9 631.73) scale(1.28 1)" font-size="14" text-anchor="end" fill="#1a1a1a">134</text>
<text transform="translate(541.9 631.73) scale(1.28 1)" font-size="14" text-anchor="end" fill="#1a1a1a">351</text>
<text transform="translate(622.3 631.73) scale(1.19 1)" font-size="14" text-anchor="end" fill="#1a1a1a">38.18%</text>
<circle cx="317.5" cy="646.42" r="8.9" fill="#f18d1e"/>
<text transform="translate(317.5 650.22) scale(1.22 1)" font-size="11.8" text-anchor="middle" fill="#fff" stroke="#fff" stroke-width="0.4">4</text>
<text transform="translate(333.35 652.61) scale(1.094 1)" font-size="13.34" font-weight="500" letter-spacing="-0.82" fill="#1c1c1c" stroke="#1c1c1c" stroke-width="0.2" xml:space="preserve">島　根</text>
<text transform="translate(462.9 652.87) scale(1.28 1)" font-size="14" text-anchor="end" fill="#1a1a1a">57</text>
<text transform="translate(541.9 652.87) scale(1.28 1)" font-size="14" text-anchor="end" fill="#1a1a1a">312</text>
<text transform="translate(622.3 652.87) scale(1.19 1)" font-size="14" text-anchor="end" fill="#1a1a1a">18.27%</text>
<circle cx="317.5" cy="667.56" r="8.9" fill="#f18d1e"/>
<text transform="translate(317.5 671.36) scale(1.22 1)" font-size="11.8" text-anchor="middle" fill="#fff" stroke="#fff" stroke-width="0.4">5</text>
<text transform="translate(333.35 673.75) scale(1.094 1)" font-size="13.34" font-weight="500" letter-spacing="-0.82" fill="#1c1c1c" stroke="#1c1c1c" stroke-width="0.2" xml:space="preserve">京　都</text>
<text transform="translate(462.9 674.01) scale(1.28 1)" font-size="14" text-anchor="end" fill="#1a1a1a">164</text>
<text transform="translate(541.9 674.01) scale(1.28 1)" font-size="14" text-anchor="end" fill="#1a1a1a">947</text>
<text transform="translate(622.3 674.01) scale(1.19 1)" font-size="14" text-anchor="end" fill="#1a1a1a">17.32%</text>
<circle cx="317.5" cy="688.7" r="8.9" fill="#f18d1e"/>
<text transform="translate(317.5 692.5) scale(1.22 1)" font-size="11.8" text-anchor="middle" fill="#fff" stroke="#fff" stroke-width="0.4">6</text>
<text transform="translate(333.35 694.89) scale(1.094 1)" font-size="13.34" font-weight="500" letter-spacing="-0.82" fill="#1c1c1c" stroke="#1c1c1c" stroke-width="0.2" xml:space="preserve">兵　庫</text>
<text transform="translate(462.9 695.15) scale(1.28 1)" font-size="14" text-anchor="end" fill="#1a1a1a">260</text>
<text transform="translate(541.9 695.15) scale(1.28 1)" font-size="14" text-anchor="end" fill="#1a1a1a">1,875</text>
<text transform="translate(622.3 695.15) scale(1.19 1)" font-size="14" text-anchor="end" fill="#1a1a1a">13.87%</text>
<circle cx="317.5" cy="709.84" r="8.9" fill="#f18d1e"/>
<text transform="translate(317.5 713.64) scale(1.22 1)" font-size="11.8" text-anchor="middle" fill="#fff" stroke="#fff" stroke-width="0.4">7</text>
<text transform="translate(333.35 716.03) scale(1.094 1)" font-size="13.34" font-weight="500" letter-spacing="-0.82" fill="#1c1c1c" stroke="#1c1c1c" stroke-width="0.2" xml:space="preserve">鳥　取</text>
<text transform="translate(462.9 716.29) scale(1.28 1)" font-size="14" text-anchor="end" fill="#1a1a1a">28</text>
<text transform="translate(541.9 716.29) scale(1.28 1)" font-size="14" text-anchor="end" fill="#1a1a1a">375</text>
<text transform="translate(622.3 716.29) scale(1.19 1)" font-size="14" text-anchor="end" fill="#1a1a1a">7.47%</text>
<circle cx="317.5" cy="730.98" r="8.9" fill="#f18d1e"/>
<text transform="translate(317.5 734.78) scale(1.22 1)" font-size="11.8" text-anchor="middle" fill="#fff" stroke="#fff" stroke-width="0.4">8</text>
<text transform="translate(333.35 737.17) scale(1.094 1)" font-size="13.34" font-weight="500" letter-spacing="-0.82" fill="#1c1c1c" stroke="#1c1c1c" stroke-width="0.2" xml:space="preserve">三　重</text>
<text transform="translate(462.9 737.43) scale(1.28 1)" font-size="14" text-anchor="end" fill="#1a1a1a">54</text>
<text transform="translate(541.9 737.43) scale(1.28 1)" font-size="14" text-anchor="end" fill="#1a1a1a">854</text>
<text transform="translate(622.3 737.43) scale(1.19 1)" font-size="14" text-anchor="end" fill="#1a1a1a">6.32%</text>
<circle cx="317.5" cy="752.12" r="8.9" fill="#f18d1e"/>
<text transform="translate(317.5 755.92) scale(1.22 1)" font-size="11.8" text-anchor="middle" fill="#fff" stroke="#fff" stroke-width="0.4">9</text>
<text transform="translate(333.35 758.31) scale(1.094 1)" font-size="13.34" font-weight="500" letter-spacing="-0.82" fill="#1c1c1c" stroke="#1c1c1c" stroke-width="0.2" xml:space="preserve">福　井</text>
<text transform="translate(462.9 758.57) scale(1.28 1)" font-size="14" text-anchor="end" fill="#1a1a1a">22</text>
<text transform="translate(541.9 758.57) scale(1.28 1)" font-size="14" text-anchor="end" fill="#1a1a1a">366</text>
<text transform="translate(622.3 758.57) scale(1.19 1)" font-size="14" text-anchor="end" fill="#1a1a1a">6.01%</text>
<circle cx="317.5" cy="773.26" r="8.9" fill="#f18d1e"/>
<text x="317.5" y="777.06" font-size="11.8" text-anchor="middle" fill="#fff" stroke="#fff" stroke-width="0.4">10</text>
<text transform="translate(333.35 779.45) scale(1.094 1)" font-size="13.34" font-weight="500" letter-spacing="-0.82" fill="#1c1c1c" stroke="#1c1c1c" stroke-width="0.2" xml:space="preserve">滋　賀</text>
<text transform="translate(462.9 779.71) scale(1.28 1)" font-size="14" text-anchor="end" fill="#1a1a1a">38</text>
<text transform="translate(541.9 779.71) scale(1.28 1)" font-size="14" text-anchor="end" fill="#1a1a1a">677</text>
<text transform="translate(622.3 779.71) scale(1.19 1)" font-size="14" text-anchor="end" fill="#1a1a1a">5.61%</text>
<circle cx="317.5" cy="794.4" r="8.9" fill="#f18d1e"/>
<text x="317.5" y="798.2" font-size="11.8" text-anchor="middle" fill="#fff" stroke="#fff" stroke-width="0.4">11</text>
<text transform="translate(333.35 800.59) scale(1.094 1)" font-size="13.34" font-weight="500" letter-spacing="-0.82" fill="#1c1c1c" stroke="#1c1c1c" stroke-width="0.2" xml:space="preserve">高　知</text>
<text transform="translate(462.9 800.85) scale(1.28 1)" font-size="14" text-anchor="end" fill="#1a1a1a">13</text>
<text transform="translate(541.9 800.85) scale(1.28 1)" font-size="14" text-anchor="end" fill="#1a1a1a">266</text>
<text transform="translate(622.3 800.85) scale(1.19 1)" font-size="14" text-anchor="end" fill="#1a1a1a">4.89%</text>
<circle cx="317.5" cy="815.54" r="8.9" fill="#f18d1e"/>
<text x="317.5" y="819.34" font-size="11.8" text-anchor="middle" fill="#fff" stroke="#fff" stroke-width="0.4">12</text>
<text transform="translate(333.35 821.73) scale(1.094 1)" font-size="13.34" font-weight="500" letter-spacing="-0.82" fill="#1c1c1c" stroke="#1c1c1c" stroke-width="0.2" xml:space="preserve">沖　縄</text>
<text transform="translate(462.9 821.99) scale(1.28 1)" font-size="14" text-anchor="end" fill="#1a1a1a">28</text>
<text transform="translate(541.9 821.99) scale(1.28 1)" font-size="14" text-anchor="end" fill="#1a1a1a">584</text>
<text transform="translate(622.3 821.99) scale(1.19 1)" font-size="14" text-anchor="end" fill="#1a1a1a">4.79%</text>
<circle cx="317.5" cy="836.68" r="8.9" fill="#f18d1e"/>
<text x="317.5" y="840.48" font-size="11.8" text-anchor="middle" fill="#fff" stroke="#fff" stroke-width="0.4">13</text>
<text transform="translate(333.35 842.87) scale(1.094 1)" font-size="13.34" font-weight="500" letter-spacing="-0.82" fill="#1c1c1c" stroke="#1c1c1c" stroke-width="0.2" xml:space="preserve">徳　島</text>
<text transform="translate(462.9 843.13) scale(1.28 1)" font-size="14" text-anchor="end" fill="#1a1a1a">12</text>
<text transform="translate(541.9 843.13) scale(1.28 1)" font-size="14" text-anchor="end" fill="#1a1a1a">262</text>
<text transform="translate(622.3 843.13) scale(1.19 1)" font-size="14" text-anchor="end" fill="#1a1a1a">4.58%</text>
<circle cx="317.5" cy="857.82" r="8.9" fill="#f18d1e"/>
<text x="317.5" y="861.62" font-size="11.8" text-anchor="middle" fill="#fff" stroke="#fff" stroke-width="0.4">14</text>
<text transform="translate(333.35 864.01) scale(1.094 1)" font-size="13.34" font-weight="500" letter-spacing="-0.82" fill="#1c1c1c" stroke="#1c1c1c" stroke-width="0.2" xml:space="preserve">愛　媛</text>
<text transform="translate(462.9 864.27) scale(1.28 1)" font-size="14" text-anchor="end" fill="#1a1a1a">24</text>
<text transform="translate(541.9 864.27) scale(1.28 1)" font-size="14" text-anchor="end" fill="#1a1a1a">563</text>
<text transform="translate(622.3 864.27) scale(1.19 1)" font-size="14" text-anchor="end" fill="#1a1a1a">4.26%</text>
<circle cx="317.5" cy="878.96" r="8.9" fill="#f18d1e"/>
<text x="317.5" y="882.76" font-size="11.8" text-anchor="middle" fill="#fff" stroke="#fff" stroke-width="0.4">14</text>
<text transform="translate(333.35 885.15) scale(1.094 1)" font-size="13.34" font-weight="500" letter-spacing="-0.82" fill="#1c1c1c" stroke="#1c1c1c" stroke-width="0.2" xml:space="preserve">香　川</text>
<text transform="translate(462.9 885.41) scale(1.28 1)" font-size="14" text-anchor="end" fill="#1a1a1a">19</text>
<text transform="translate(541.9 885.41) scale(1.28 1)" font-size="14" text-anchor="end" fill="#1a1a1a">446</text>
<text transform="translate(622.3 885.41) scale(1.19 1)" font-size="14" text-anchor="end" fill="#1a1a1a">4.26%</text>
<polyline points="172.2,584.1 180.9,584.1 295.5,583.4 305,583.4" fill="none" stroke="#747474" stroke-width="2.3" stroke-linejoin="round"/>
<polyline points="172.2,604.54 180.9,604.54 295.5,689.1 305,689.1" fill="none" stroke="#747474" stroke-width="2.3" stroke-linejoin="round"/>
<polyline points="172.2,624.98 180.9,624.98 295.5,603.54 305,603.54" fill="none" stroke="#747474" stroke-width="2.3" stroke-linejoin="round"/>
<polyline points="172.2,647.42 180.9,647.42 295.5,666.56 305,666.56" fill="none" stroke="#747474" stroke-width="2.3" stroke-linejoin="round"/>
<polyline points="172.2,667.16 180.9,667.16 295.5,624.98 305,624.98" fill="none" stroke="#747474" stroke-width="2.3" stroke-linejoin="round"/>
<polyline points="172.2,689.6 180.9,689.6 295.5,646.82 305,646.82" fill="none" stroke="#747474" stroke-width="2.3" stroke-linejoin="round"/>
<polyline points="172.2,710.24 180.9,710.24 295.5,731.38 305,731.38" fill="none" stroke="#747474" stroke-width="2.3" stroke-linejoin="round"/>
<polyline points="172.2,731.78 180.9,731.78 295.5,774.26 305,774.26" fill="none" stroke="#747474" stroke-width="2.3" stroke-linejoin="round"/>
<polyline points="172.2,752.52 180.9,752.52 295.5,710.24 305,710.24" fill="none" stroke="#747474" stroke-width="2.3" stroke-linejoin="round"/>
<polyline points="172.2,773.66 180.9,773.66 295.5,815.94 305,815.94" fill="none" stroke="#747474" stroke-width="2.3" stroke-linejoin="round"/>
<polyline points="172.2,794.1 180.9,794.1 295.5,858.22 305,858.22" fill="none" stroke="#747474" stroke-width="2.3" stroke-linejoin="round"/>
<polyline points="172.2,815.24 180.9,815.24 295.5,752.52 305,752.52" fill="none" stroke="#747474" stroke-width="2.3" stroke-linejoin="round"/>
<polyline points="172.2,878.86 180.9,878.86 295.5,878.86 305,878.86" fill="none" stroke="#747474" stroke-width="2.3" stroke-linejoin="round"/>
</svg>
</body></html>
